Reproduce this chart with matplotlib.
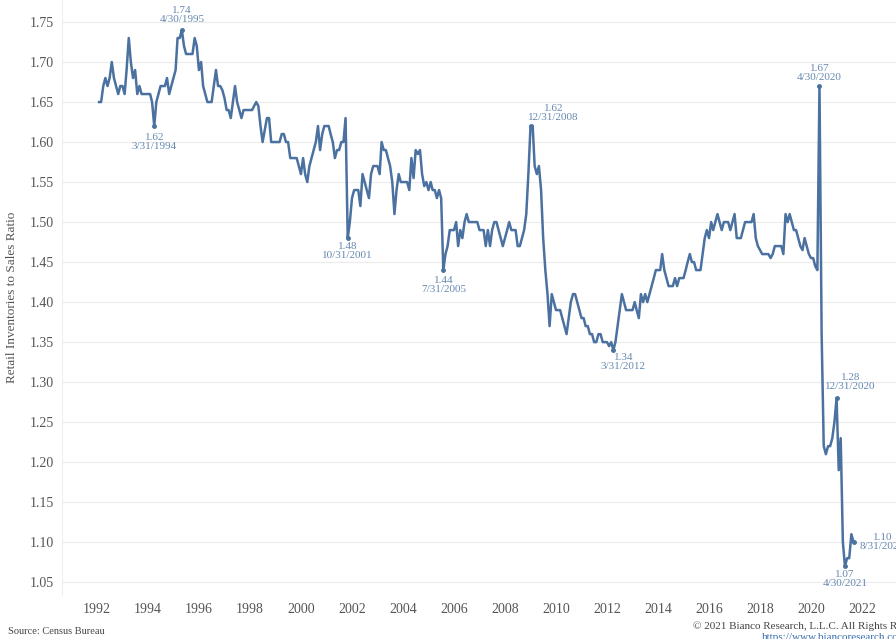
import datetime as dt
import numpy as np
import pandas as pd
import matplotlib
matplotlib.use("Agg")
import matplotlib.pyplot as plt

# monthly retail inventories / sales ratio, Jan 1992 - Aug 2021
r1992 = [1.65, 1.65, 1.67, 1.68, 1.67, 1.68, 1.70, 1.68, 1.67, 1.66, 1.67, 1.67]
r1993 = [1.66, 1.69, 1.73, 1.70, 1.68, 1.69, 1.66, 1.67, 1.66, 1.66, 1.66, 1.66]
r1994 = [1.66, 1.65, 1.62, 1.65, 1.66, 1.67, 1.67, 1.67, 1.68, 1.66, 1.67, 1.68]
r1995 = [1.69, 1.73, 1.73, 1.74, 1.72, 1.71, 1.71, 1.71, 1.71, 1.73, 1.72, 1.69]
r1996 = [1.70, 1.67, 1.66, 1.65, 1.65, 1.65, 1.67, 1.69, 1.67, 1.67, 1.665, 1.655]
r1997 = [1.64, 1.64, 1.63, 1.65, 1.67, 1.65, 1.64, 1.63, 1.64, 1.64, 1.64, 1.64]
r1998 = [1.64, 1.645, 1.65, 1.645, 1.62, 1.60, 1.615, 1.63, 1.63, 1.60, 1.60, 1.60]
r1999 = [1.60, 1.60, 1.61, 1.61, 1.60, 1.60, 1.58, 1.58, 1.58, 1.58, 1.57, 1.56]
r2000 = [1.58, 1.56, 1.55, 1.57, 1.58, 1.59, 1.60, 1.62, 1.59, 1.61, 1.62, 1.62]
r2001 = [1.62, 1.61, 1.60, 1.58, 1.59, 1.59, 1.60, 1.60, 1.63, 1.48, 1.50, 1.53]
r2002 = [1.54, 1.54, 1.54, 1.52, 1.56, 1.55, 1.54, 1.53, 1.56, 1.57, 1.57, 1.57]
r2003 = [1.56, 1.60, 1.59, 1.59, 1.58, 1.57, 1.55, 1.51, 1.54, 1.56, 1.55, 1.55]
r2004 = [1.55, 1.55, 1.54, 1.58, 1.555, 1.59, 1.585, 1.59, 1.56, 1.545, 1.55, 1.54]
r2005 = [1.55, 1.54, 1.54, 1.53, 1.54, 1.53, 1.44, 1.46, 1.47, 1.49, 1.49, 1.49]
r2006 = [1.50, 1.47, 1.49, 1.48, 1.50, 1.51, 1.50, 1.50, 1.50, 1.50, 1.50, 1.49]
r2007 = [1.49, 1.49, 1.47, 1.49, 1.47, 1.49, 1.50, 1.50, 1.49, 1.48, 1.47, 1.48]
r2008 = [1.49, 1.50, 1.49, 1.49, 1.49, 1.47, 1.47, 1.48, 1.49, 1.51, 1.56, 1.62]
r2009 = [1.62, 1.57, 1.56, 1.57, 1.54, 1.48, 1.44, 1.41, 1.37, 1.41, 1.40, 1.39]
r2010 = [1.39, 1.39, 1.38, 1.37, 1.36, 1.38, 1.40, 1.41, 1.41, 1.40, 1.39, 1.38]
r2011 = [1.38, 1.37, 1.37, 1.36, 1.36, 1.35, 1.35, 1.36, 1.36, 1.35, 1.35, 1.35]
r2012 = [1.345, 1.35, 1.34, 1.35, 1.37, 1.39, 1.41, 1.40, 1.39, 1.39, 1.39, 1.39]
r2013 = [1.40, 1.39, 1.38, 1.41, 1.40, 1.41, 1.40, 1.41, 1.42, 1.43, 1.44, 1.44]
r2014 = [1.44, 1.46, 1.44, 1.43, 1.42, 1.42, 1.42, 1.43, 1.42, 1.43, 1.43, 1.43]
r2015 = [1.44, 1.45, 1.46, 1.45, 1.45, 1.44, 1.44, 1.44, 1.46, 1.48, 1.49, 1.48]
r2016 = [1.50, 1.49, 1.50, 1.51, 1.50, 1.49, 1.50, 1.50, 1.50, 1.49, 1.50, 1.51]
r2017 = [1.48, 1.48, 1.48, 1.49, 1.50, 1.50, 1.50, 1.50, 1.51, 1.48, 1.47, 1.465]
r2018 = [1.46, 1.46, 1.46, 1.46, 1.455, 1.46, 1.47, 1.47, 1.47, 1.47, 1.46, 1.51]
r2019 = [1.50, 1.51, 1.50, 1.49, 1.49, 1.48, 1.47, 1.465, 1.48, 1.47, 1.46, 1.455]
r2020 = [1.455, 1.445, 1.44, 1.67, 1.36, 1.22, 1.21, 1.22, 1.22, 1.23, 1.25, 1.28]
r2021 = [1.19, 1.23, 1.10, 1.07, 1.08, 1.08, 1.11, 1.10]

ratio = np.array(r1992 + r1993 + r1994 + r1995 + r1996 + r1997 + r1998 + r1999
                 + r2000 + r2001 + r2002 + r2003 + r2004 + r2005 + r2006 + r2007
                 + r2008 + r2009 + r2010 + r2011 + r2012 + r2013 + r2014 + r2015
                 + r2016 + r2017 + r2018 + r2019 + r2020 + r2021)
dates = pd.date_range("1992-01-01", periods=len(ratio), freq="MS") + pd.offsets.MonthEnd(0)
series = pd.Series(ratio, index=dates)

# labelled points
ann_dates = ["1994-03-31", "1995-04-30", "2001-10-31", "2005-07-31", "2008-12-31",
             "2012-03-31", "2020-04-30", "2020-12-31", "2021-04-30", "2021-08-31"]
# text offsets in pixels (dx, dy) and vertical alignment
ann_offsets = [(0, -7), (0, 6), (0, -4), (0, -6), (23, 4),
               (10, -3), (0, 4), (14, 7), (0, -4), (29, 0)]
ann_va = ["top", "bottom", "top", "top", "bottom",
          "top", "bottom", "bottom", "top", "center"]

yticks = np.arange(1.05, 1.751, 0.05)
xtick_years = list(range(1992, 2023, 2))

line_col = "#4a71a0"
ann_col = "#6688b0"
txt_col = "#555555"
serif = ["Liberation Serif", "DejaVu Serif"]

fig = plt.figure(figsize=(8.96, 6.39), dpi=100)
ax = fig.add_axes([62 / 896, 44 / 639, 834 / 896, 595 / 639])

ax.plot(series.index, series.values, color=line_col, lw=1.8, solid_joinstyle="round")

for d, (dx, dy), va in zip(ann_dates, ann_offsets, ann_va):
    d = pd.Timestamp(d)
    v = series[d]
    ax.plot([d], [v], "o", ms=2.5, color=line_col)
    ax.annotate(f"{v:.2f}\n{d.month}/{d.day}/{d.year}", (d, v), xytext=(dx, dy),
                textcoords="offset pixels", ha="center", va=va, fontsize=8,
                color=ann_col, family=serif, linespacing=1.0,
                multialignment="center", annotation_clip=False)

ax.set_ylim(1.034, 1.7775)
ax.set_xlim(dt.datetime(1990, 8, 18), dt.datetime(2023, 5, 1))
ax.set_yticks(yticks)
ax.set_yticklabels([f"{t:.2f}" for t in yticks])
ax.set_xticks([dt.datetime(y, 1, 1) for y in xtick_years])
ax.set_xticklabels([str(y) for y in xtick_years])
ax.grid(axis="y", color="#ececec", lw=0.8)
ax.set_axisbelow(True)
ax.tick_params(length=0, labelsize=10, labelcolor=txt_col, pad=6)
for lbl in ax.get_xticklabels() + ax.get_yticklabels():
    lbl.set_family(serif)
for s in ["top", "right", "bottom"]:
    ax.spines[s].set_visible(False)
ax.spines["left"].set_color("#eeeeee")
ax.set_ylabel("Retail Inventories to Sales Ratio", fontsize=9.5, color=txt_col,
              family=serif, labelpad=8)

fig.text(8 / 896, 1 - 632 / 639, "Source: Census Bureau", fontsize=7.5, color="#444444",
         family=serif, va="center", ha="left")
fig.text(693 / 896, 1 - 626 / 639, "\u00a9 2021 Bianco Research, L.L.C. All Rights Reserved",
         fontsize=8, color="#444444", family=serif, va="center", ha="left")
fig.text(762 / 896, 1 - 638 / 639, "https://www.biancoresearch.com", fontsize=8,
         color="#3a6fb0", family=serif, va="center", ha="left")

fig.savefig("out.png", dpi=100, facecolor="white")
